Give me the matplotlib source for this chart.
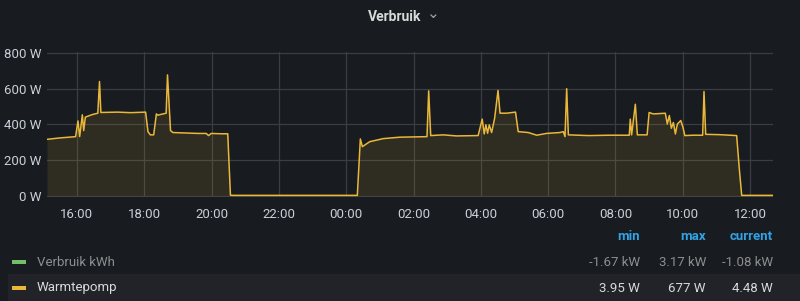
import matplotlib.pyplot as plt
from matplotlib.patches import Rectangle
from matplotlib.ticker import FixedLocator

plt.rcParams['font.family'] = ['Roboto', 'DejaVu Sans']

# time in hours since midnight of day 1 (values > 24 are the next day)
hours = [15.11, 15.50, 15.96, 16.03, 16.08, 16.16, 16.20, 16.25, 16.45, 16.62, 16.67, 16.71,
         17.20, 17.60, 18.04, 18.11, 18.18, 18.28, 18.36, 18.40, 18.65, 18.69, 18.78, 18.85,
         19.30, 19.60, 19.84, 19.91, 19.99, 20.30, 20.48, 20.56, 20.65, 22.00, 24.33,
         24.42, 24.48, 24.70, 25.10, 25.59, 26.40, 26.45, 26.51, 26.88, 27.28, 27.92,
         28.04, 28.10, 28.15, 28.20, 28.25, 28.32, 28.41, 28.51, 28.57, 28.76, 29.03, 29.11,
         29.41, 29.66, 29.95, 30.35, 30.45, 30.50, 30.55, 30.60, 31.20, 31.80, 32.41, 32.44,
         32.48, 32.59, 32.65, 32.94, 33.00, 33.12, 33.32, 33.48, 33.54, 33.60, 33.66, 33.72,
         33.78, 33.84, 33.94, 34.00, 34.06, 34.30, 34.59, 34.63, 34.68, 35.10, 35.60, 35.68,
         35.75, 36.68]
watts = [317, 325, 332, 420, 332, 454, 366, 441, 455, 463, 640, 467,
         469, 466, 469, 360, 342, 342, 459, 452, 463, 677, 366, 355,
         352, 350, 350, 338, 350, 348, 348, 5, 4, 4, 4,
         319, 276, 304, 321, 329, 332, 588, 338, 342, 336, 338,
         430, 347, 398, 351, 398, 355, 435, 590, 463, 463, 469, 360,
         355, 340, 350, 355, 360, 332, 600, 342, 338, 340, 340, 430,
         342, 513, 342, 342, 467, 459, 461, 463, 403, 450, 379, 411,
         347, 403, 422, 388, 338, 340, 340, 584, 345, 343, 338, 150,
         4, 4]

y_ticks = [0, 200, 400, 600, 800]
x_ticks = [16, 18, 20, 22, 24, 26, 28, 30, 32, 34, 36]
x_labels = ['16:00', '18:00', '20:00', '22:00', '00:00', '02:00', '04:00',
            '06:00', '08:00', '10:00', '12:00']

stat_headers = ['min', 'max', 'current']
series_names = ['Verbruik kWh', 'Warmtepomp']
series_colors = ['#73bf69', '#eab839']
series_stats = [['-1.67 kW', '3.17 kW', '-1.08 kW'],
                ['3.95 W', '677 W', '4.48 W']]

bg = '#181b1f'
fig = plt.figure(figsize=(8, 3.01), dpi=100, facecolor=bg)
ax = fig.add_axes([47 / 800, 0.345, 726 / 800, 0.4817], facecolor=bg)

ax.fill_between(hours, watts, 0, color='#eab839', alpha=0.11, lw=0)
ax.plot(hours, watts, color='#eab839', lw=1.1)

ax.set_xlim(15.11, 36.68)
ax.set_ylim(-6, 804)
ax.xaxis.set_major_locator(FixedLocator(x_ticks))
ax.set_xticklabels(x_labels)
ax.set_yticks(y_ticks)
ax.set_yticklabels([f'{v} W' for v in y_ticks])
ax.grid(True, color='#3b3d42', lw=0.9)
ax.set_axisbelow(True)
ax.tick_params(length=0, colors='#c7d0d9', labelsize=9.5)
ax.tick_params(axis='x', pad=8)
ax.tick_params(axis='y', pad=4)
for s in ax.spines.values():
    s.set_visible(False)

# title
fig.text(395 / 800, 1 - 17 / 301, 'Verbruik', ha='center', va='center', color='#d8d9da',
         fontsize=10, fontweight='bold')
fig.text(433 / 800, 1 - 14 / 301, '⌄', ha='center', va='center', color='#9fa1a6',
         fontsize=11, family=['DejaVu Sans', 'Noto Sans'])

# legend table
col_right = [640, 706, 773]
for hdr, xr in zip(stat_headers, col_right):
    fig.text(xr / 800, 1 - 237 / 301, hdr, ha='right', va='center', color='#33a2e5',
             fontsize=9.5, fontweight='bold')

fig.patches.append(Rectangle((8 / 800, 0), 792 / 800, 27 / 301, transform=fig.transFigure,
                             facecolor='#212328', edgecolor='none', zorder=0))

row_y = [262, 288]
text_cols = ['#8e8e8e', '#d8d9da']
for name, col, stats, y, tc in zip(series_names, series_colors, series_stats, row_y, text_cols):
    yf = 1 - y / 301
    fig.patches.append(Rectangle((12 / 800, yf - 2 / 301), 14 / 800, 4 / 301,
                                 transform=fig.transFigure, facecolor=col, edgecolor='none'))
    fig.text(37 / 800, yf, name, ha='left', va='center', color=tc, fontsize=9.5)
    for val, xr in zip(stats, col_right):
        fig.text(xr / 800, yf, val, ha='right', va='center', color=tc, fontsize=9.5)

fig.savefig('out.png', dpi=100, facecolor=bg)
